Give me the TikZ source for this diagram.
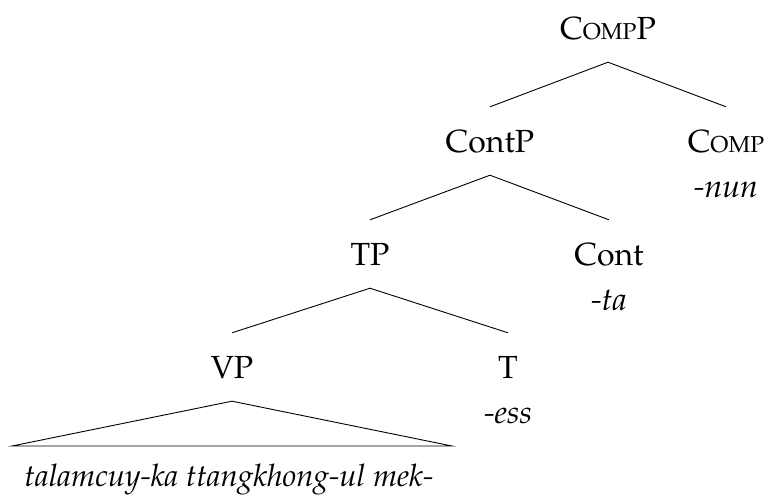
\documentclass[tikz,border=0pt]{standalone}
\usepackage[T1]{fontenc}
\usepackage{mathpazo}
\newcommand\fakesc[1]{{\fontsize{23}{27}\selectfont #1}}
\begin{document}
\begin{tikzpicture}[x=1pt,y=-1pt,
  lab/.style={anchor=base,inner xsep=0pt,inner ysep=0pt,text height=22pt,text depth=0pt,
              font=\fontsize{32}{38}\selectfont},
  cat/.style={lab,inner ysep=23pt},
  morph/.style={lab,font=\fontsize{32}{38}\selectfont\itshape},
  terminal/.style={lab,font=\fontsize{31}{37}\selectfont\itshape},
  branch/.style={line width=0.9pt}]
\useasboundingbox (0,0) rectangle (765,496);
\node[cat] (compp) at (608,39) {C\fakesc{OMP}P};
\node[cat] (contp) at (490,152) {ContP};
\node[cat] (comp) at (726,152) {C\fakesc{OMP}};
\node[morph] (nun) at (726,197) {-nun};
\node[cat] (tp) at (370,265) {TP};
\node[cat] (cont) at (609,265) {Cont};
\node[morph] (ta) at (609,310) {-ta};
\node[cat] (vp) at (232,378) {VP};
\node[cat] (t) at (508,378) {T};
\node[morph] (ess) at (508,423) {-ess};
\node[terminal] (words) at (229,486) {talamcuy-ka ttangkhong-ul mek-};
\coordinate (tl) at (12,446);
\coordinate (tr) at (452,446);
\draw[branch] (contp.north) -- (compp.south) -- (comp.north);
\draw[branch] (tp.north) -- (contp.south) -- (cont.north);
\draw[branch] (vp.north) -- (tp.south) -- (t.north);
\draw[branch] (vp.south) -- (tl) -- (tr) -- cycle;
\end{tikzpicture}
\end{document}
